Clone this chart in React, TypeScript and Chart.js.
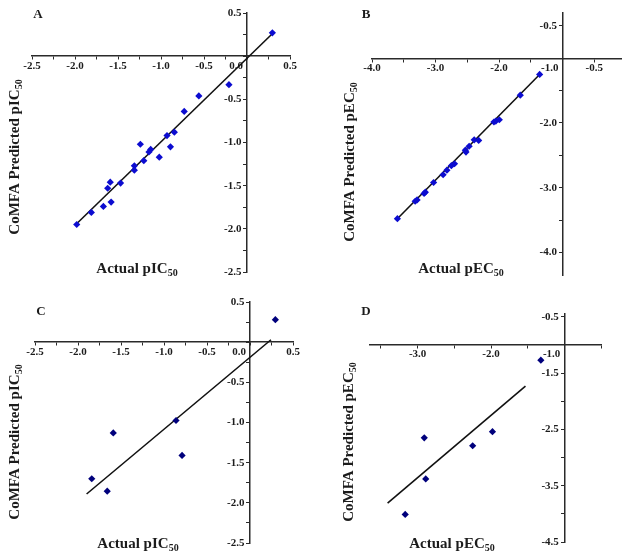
import { useEffect, useRef } from 'react';
import { Chart, registerables } from 'chart.js';
Chart.register(...registerables);

// ---- data ----
const A_ACTUAL = [0.295, -0.21, -0.56, -0.73, -0.93, -0.845, -0.89, -1.02, -1.24, -1.12, -1.14, -1.2, -1.31, -1.31, -1.47, -1.59, -1.62, -1.58, -1.67, -1.81, -1.98];
const A_PRED = [0.27, -0.33, -0.46, -0.64, -0.92, -0.88, -1.05, -1.17, -1.02, -1.08, -1.11, -1.21, -1.27, -1.32, -1.47, -1.46, -1.53, -1.69, -1.74, -1.81, -1.95];
const A_LINE_X = [-1.99, 0.3];
const A_LINE_Y = [-1.95, 0.265];

const B_ACTUAL = [-3.6, -3.32, -3.29, -3.18, -3.16, -3.03, -2.88, -2.82, -2.75, -2.7, -2.53, -2.52, -2.47, -2.39, -2.32, -2.08, -2.05, -1.995, -1.665, -1.36];
const B_PRED = [-3.48, -3.21, -3.19, -3.09, -3.07, -2.92, -2.8, -2.73, -2.66, -2.63, -2.42, -2.45, -2.36, -2.26, -2.27, -1.985, -1.97, -1.95, -1.57, -1.25];
const B_LINE_X = [-3.62, -1.36];
const B_LINE_Y = [-3.5, -1.25];

const C_ACTUAL = [0.295, -0.86, -0.79, -1.59, -1.84, -1.66];
const C_PRED = [0.28, -0.975, -1.41, -1.13, -1.7, -1.855];
const C_LINE_X = [-1.9, 0.244];
const C_LINE_Y = [-1.89, 0.03];

const D_ACTUAL = [-1.32, -1.98, -2.25, -2.91, -2.89, -3.17];
const D_PRED = [-1.27, -2.54, -2.79, -2.65, -3.38, -4.01];
const D_LINE_X = [-3.41, -1.53];
const D_LINE_Y = [-3.81, -1.73];

// tick labels
const IC_X_LABELS = [-2.5, -2.0, -1.5, -1.0, -0.5, 0.5];
const IC_Y_LABELS = [0.5, -0.5, -1.0, -1.5, -2.0, -2.5];
const B_X_LABELS = [-4.0, -3.0, -2.0, -0.5];
const B_Y_LABELS = [-0.5, -2.0, -3.0, -4.0];
const D_X_LABELS = [-3.0, -2.0];
const D_Y_LABELS = [-0.5, -1.5, -2.5, -3.5, -4.5];

const FONT_FAMILY = '"Liberation Serif", "Times New Roman", serif';
const TEXT_COLOR = '#1c1c1c';
const AXIS_COLOR = '#2a2a2a';
const PAD = { left: 45, right: 35, top: 20, bottom: 20 };

type Panel = {
  letter: string;
  actual: number[];
  pred: number[];
  lineX: number[];
  lineY: number[];
  xMin: number; xMax: number; yMin: number; yMax: number;
  xStep: number; yStep: number;
  cross: [number, number];
  xLabels: number[]; yLabels: number[];
  crossLabel: string;
  unit: string;
  color: string;
  area: { l: number; r: number; t: number; b: number };
  letterPos: [number, number];
  yTitlePos: [number, number];
  xTitlePos: [number, number];
};

const PANELS: Panel[] = [
  {
    letter: 'A', actual: A_ACTUAL, pred: A_PRED, lineX: A_LINE_X, lineY: A_LINE_Y,
    xMin: -2.5, xMax: 0.5, yMin: -2.5, yMax: 0.5, xStep: 0.25, yStep: 0.25, cross: [0, 0],
    xLabels: IC_X_LABELS, yLabels: IC_Y_LABELS, crossLabel: '0.0', unit: 'pIC', color: '#0c0cd0',
    area: { l: 32, r: 290, t: 13, b: 272 }, letterPos: [38, 15], yTitlePos: [14, 157], xTitlePos: [137, 268],
  },
  {
    letter: 'B', actual: B_ACTUAL, pred: B_PRED, lineX: B_LINE_X, lineY: B_LINE_Y,
    xMin: -4.0, xMax: 0.0, yMin: -4.35, yMax: -0.3, xStep: 0.5, yStep: 0.5, cross: [-1, -1],
    xLabels: B_X_LABELS, yLabels: B_Y_LABELS, crossLabel: '-1.0', unit: 'pEC', color: '#0c0cd0',
    area: { l: 372, r: 626, t: 13, b: 275 }, letterPos: [366, 15], yTitlePos: [349, 162], xTitlePos: [461, 268],
  },
  {
    letter: 'C', actual: C_ACTUAL, pred: C_PRED, lineX: C_LINE_X, lineY: C_LINE_Y,
    xMin: -2.5, xMax: 0.5, yMin: -2.5, yMax: 0.5, xStep: 0.25, yStep: 0.25, cross: [0, 0],
    xLabels: IC_X_LABELS, yLabels: IC_Y_LABELS, crossLabel: '0.0', unit: 'pIC', color: '#00007c',
    area: { l: 35, r: 293, t: 302, b: 543 }, letterPos: [41, 312], yTitlePos: [14, 442], xTitlePos: [138, 543],
  },
  {
    letter: 'D', actual: D_ACTUAL, pred: D_PRED, lineX: D_LINE_X, lineY: D_LINE_Y,
    xMin: -3.65, xMax: -0.5, yMin: -4.5, yMax: -0.45, xStep: 0.5, yStep: 0.5, cross: [-1, -1],
    xLabels: D_X_LABELS, yLabels: D_Y_LABELS, crossLabel: '-1.0', unit: 'pEC', color: '#00007c',
    area: { l: 370, r: 601, t: 314, b: 542 }, letterPos: [366, 312], yTitlePos: [348, 442], xTitlePos: [452, 543],
  },
];

const TITLE_FONT = `bold 15px ${FONT_FAMILY}`;
const SUB_FONT = `bold 10px ${FONT_FAMILY}`;

function drawSubText(ctx: CanvasRenderingContext2D, main: string, sub: string, cx: number, cy: number, rot: number) {
  ctx.save();
  ctx.translate(cx, cy);
  ctx.rotate(rot);
  ctx.font = TITLE_FONT;
  const w1 = ctx.measureText(main).width;
  ctx.font = SUB_FONT;
  const w2 = ctx.measureText(sub).width;
  const x0 = -(w1 + w2) / 2;
  ctx.textAlign = 'left';
  ctx.textBaseline = 'alphabetic';
  ctx.fillStyle = TEXT_COLOR;
  ctx.font = TITLE_FONT;
  ctx.fillText(main, x0, 5);
  ctx.font = SUB_FONT;
  ctx.fillText(sub, x0 + w1, 8);
  ctx.restore();
}

function canvasBox(p: Panel) {
  const left = p.area.l - PAD.left;
  const top = p.area.t - PAD.top;
  const width = p.area.r - p.area.l + PAD.left + PAD.right;
  const height = p.area.b - p.area.t + PAD.top + PAD.bottom;
  return { left, top, width, height };
}

const near = (list: number[], v: number) => list.some((l) => Math.abs(l - v) < 1e-6);

function PanelChart({ p }: { p: Panel }) {
  const ref = useRef<HTMLCanvasElement | null>(null);
  const box = canvasBox(p);
  useEffect(() => {
    if (!ref.current) return;
    const tickFont = { family: FONT_FAMILY, size: 11, weight: 'bold' as const };
    const textPlugin = {
      id: 'panelText',
      afterDraw(chart: Chart) {
        const ctx = chart.ctx;
        ctx.save();
        ctx.fillStyle = TEXT_COLOR;
        ctx.font = `bold 13px ${FONT_FAMILY}`;
        ctx.textAlign = 'center';
        ctx.textBaseline = 'middle';
        ctx.fillText(p.letter, p.letterPos[0] - box.left, p.letterPos[1] - box.top);
        ctx.restore();
        drawSubText(ctx, `Actual ${p.unit}`, '50', p.xTitlePos[0] - box.left, p.xTitlePos[1] - box.top, 0);
        drawSubText(ctx, `CoMFA Predicted ${p.unit}`, '50', p.yTitlePos[0] - box.left, p.yTitlePos[1] - box.top, -Math.PI / 2);
      },
    };
    const chart = new Chart(ref.current, {
      type: 'scatter',
      data: {
        datasets: [
          {
            data: p.actual.map((x, i) => ({ x, y: p.pred[i] })),
            xAxisID: 'x', yAxisID: 'y',
            pointStyle: 'rectRot', pointRadius: 3.6, backgroundColor: p.color, borderColor: p.color, borderWidth: 0,
            showLine: false,
          },
          {
            data: p.lineX.map((x, i) => ({ x, y: p.lineY[i] })),
            xAxisID: 'x', yAxisID: 'y',
            showLine: true, pointRadius: 0, borderColor: '#111', borderWidth: 1.6, fill: false,
          },
        ],
      },
      options: {
        animation: false,
        responsive: false,
        devicePixelRatio: 1,
        events: [],
        layout: { padding: PAD },
        plugins: { legend: { display: false }, tooltip: { enabled: false } },
        scales: {
          x: {
            type: 'linear', min: p.xMin, max: p.xMax, position: { y: p.cross[1] },
            border: { display: true, color: AXIS_COLOR, width: 1.5 },
            grid: { display: true, drawOnChartArea: false, drawTicks: true, tickLength: 3, color: AXIS_COLOR, lineWidth: 1 },
            ticks: {
              stepSize: p.xStep, autoSkip: false, includeBounds: false, maxRotation: 0, padding: 0,
              font: tickFont, color: TEXT_COLOR,
              callback: (v: any) => (near(p.xLabels, Number(v)) ? Number(v).toFixed(1) : ''),
            },
          },
          xc: {
            type: 'linear', axis: 'x', min: p.xMin, max: p.xMax, position: { y: p.cross[1] },
            border: { display: false }, grid: { display: false, drawTicks: false, tickLength: 0 },
            afterBuildTicks: (s: any) => { s.ticks = [{ value: p.cross[0] }]; },
            ticks: {
              align: 'end', labelOffset: -4, padding: 3, autoSkip: false, maxRotation: 0,
              font: tickFont, color: TEXT_COLOR,
              callback: () => p.crossLabel,
            },
          },
          y: {
            type: 'linear', min: p.yMin, max: p.yMax, position: { x: p.cross[0] },
            border: { display: true, color: AXIS_COLOR, width: 1.5 },
            grid: { display: true, drawOnChartArea: false, drawTicks: true, tickLength: 3, color: AXIS_COLOR, lineWidth: 1 },
            ticks: {
              stepSize: p.yStep, autoSkip: false, includeBounds: false, padding: 2,
              font: tickFont, color: TEXT_COLOR,
              callback: (v: any) => (near(p.yLabels, Number(v)) ? Number(v).toFixed(1) + '  ' : ''),
            },
          },
        },
      } as any,
      plugins: [textPlugin],
    });
    return () => chart.destroy();
  }, [p]);
  return (
    <canvas
      ref={ref}
      width={box.width}
      height={box.height}
      style={{ position: 'absolute', left: box.left, top: box.top, width: box.width, height: box.height }}
    />
  );
}

export default function App() {
  return (
    <div style={{ position: 'fixed', left: 0, top: 0, width: 622, height: 560, overflow: 'hidden', background: '#fff' }}>
      {PANELS.map((p) => (
        <PanelChart key={p.letter} p={p} />
      ))}
    </div>
  );
}
